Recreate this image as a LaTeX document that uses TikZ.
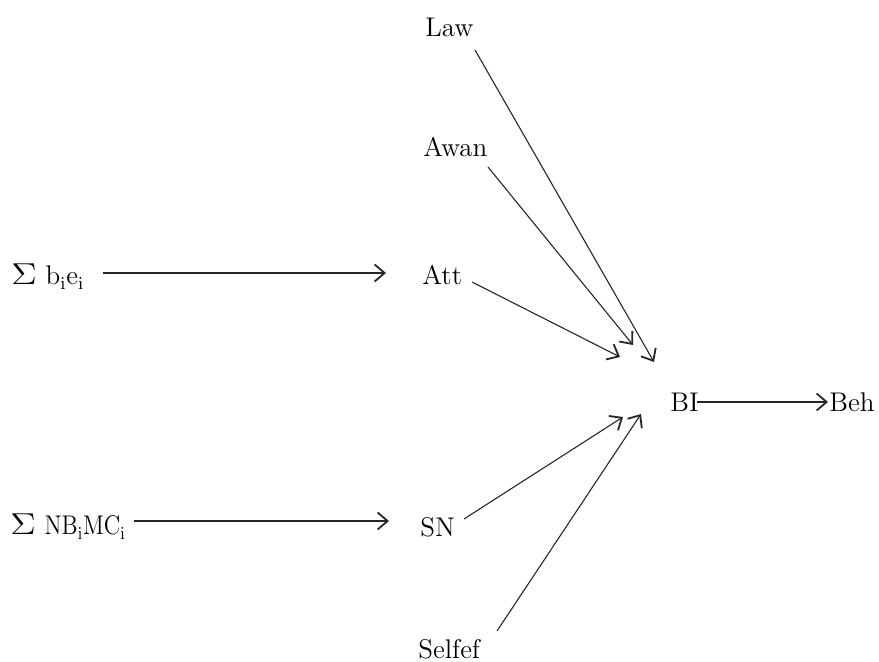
\documentclass[tikz,border=0pt]{standalone}
\usepackage{graphicx}
\usetikzlibrary{arrows.meta}
\newcommand{\bigsig}{\scalebox{1.25}[1.05]{$\Sigma$}}
\begin{document}
\begin{tikzpicture}[x=0.5pt,y=-0.5pt,
  lbl/.style={inner sep=0pt, anchor=base west, font=\fontsize{13.5}{16}\selectfont},
  arr/.style={line width=0.55pt, draw=black!85,
    -{Straight Barb[length=5pt,width=8.5pt,line width=0.9pt]}},
]
\useasboundingbox (0,0) rectangle (879,662);

% variables
\node[lbl] (law)    at (425,37)  {Law};
\node[lbl] (awan)   at (423,157) {Awan};
\node[lbl] (att)    at (422,285) {Att};
\node[lbl] (sn)     at (420,537) {SN};
\node[lbl] (selfef) at (418,659) {Selfef};
\node[lbl] (bi)     at (670,412) {BI};
\node[lbl] (beh)    at (829,412) {Beh};
\node[lbl] (sbe)    at (11,285)  {\bigsig\ b$_{\mathrm i}$e$_{\mathrm i}$};
\node[lbl] (snm)    at (10,535)  {\bigsig\ \scalebox{0.86}[1]{NB$_{\mathrm i}$MC$_{\mathrm i}$}};

% connector end points
\coordinate (sbe-out)    at (103,273);
\coordinate (att-in)     at (386,273);
\coordinate (snm-out)    at (134,521);
\coordinate (sn-in)      at (389,521);
\coordinate (law-out)    at (475,50);
\coordinate (law-bi)     at (654,362);
\coordinate (awan-out)   at (488,167);
\coordinate (awan-bi)    at (633,345);
\coordinate (att-out)    at (472,282);
\coordinate (att-bi)     at (620,357);
\coordinate (sn-out)     at (464,519);
\coordinate (sn-bi)      at (623,417);
\coordinate (selfef-out) at (497,631);
\coordinate (selfef-bi)  at (641,414);
\coordinate (bi-out)     at (697,402);
\coordinate (beh-in)     at (828,402);

% connectors
\draw[arr] (sbe-out) -- (att-in);
\draw[arr] (snm-out) -- (sn-in);
\draw[arr] (law-out) -- (law-bi);
\draw[arr] (awan-out) -- (awan-bi);
\draw[arr] (att-out) -- (att-bi);
\draw[arr] (sn-out) -- (sn-bi);
\draw[arr] (selfef-out) -- (selfef-bi);
\draw[arr] (bi-out) -- (beh-in);
\end{tikzpicture}
\end{document}
